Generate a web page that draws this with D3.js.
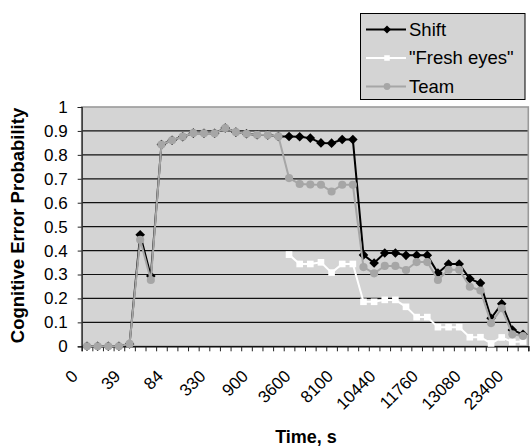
<!DOCTYPE html>
<html>
<head>
<meta charset="utf-8">
<script src="https://cdn.jsdelivr.net/npm/d3@7"></script>
<style>
  html, body { margin: 0; padding: 0; background: #fff; }
  svg { display: block; font-family: "Liberation Sans", Arial, sans-serif; }
</style>
</head>
<body>
<svg id="chart" width="531" height="446"></svg>
<script>
// Time labels shown under every 4th category
const timeLabels = ["0", "39", "84", "330", "900", "3600", "8100", "10440", "11760", "13080", "23400"];
const yTicks = [0, 0.1, 0.2, 0.3, 0.4, 0.5, 0.6, 0.7, 0.8, 0.9, 1];

const shift = [0, 0, 0, 0, 0.01, 0.466, 0.294, 0.843, 0.861, 0.876, 0.891, 0.89, 0.89, 0.912,
  0.895, 0.888, 0.884, 0.883, 0.877, 0.877, 0.876, 0.87, 0.85, 0.849, 0.864, 0.864, 0.382,
  0.348, 0.39, 0.39, 0.38, 0.38, 0.38, 0.306, 0.344, 0.344, 0.282, 0.264, 0.117, 0.178, 0.068, 0.05];

const freshEyes = [null, null, null, null, null, null, null, null, null, null, null, null, null,
  null, null, null, null, null, null, 0.383, 0.344, 0.344, 0.351, 0.308, 0.344, 0.344, 0.186,
  0.186, 0.194, 0.194, 0.165, 0.122, 0.122, 0.08, 0.08, 0.08, 0.038, 0.038, 0.012, 0.037, 0.018, 0.02];

const team = [0, 0, 0, 0, 0.01, 0.445, 0.277, 0.843, 0.861, 0.876, 0.891, 0.89, 0.89, 0.912,
  0.895, 0.888, 0.884, 0.883, 0.877, 0.703, 0.678, 0.676, 0.675, 0.647, 0.675, 0.675, 0.331,
  0.305, 0.336, 0.336, 0.319, 0.352, 0.352, 0.277, 0.32, 0.32, 0.249, 0.233, 0.097, 0.159, 0.05, 0.043];

const seriesNames = ["Shift", "\"Fresh eyes\"", "Team"];

const n = team.length;
const labelStep = 4;
const FONT = "Liberation Sans, Arial, sans-serif";

const svg = d3.select("#chart");
const plot = { left: 81.7, right: 528.3, top: 107, bottom: 346.3 };
const bg = "#d4d4d4";

const x = d3.scaleBand().domain(d3.range(n)).range([plot.left, plot.right]).padding(0);
const xEdge = d3.scaleLinear().domain([0, n]).range([plot.left, plot.right]);
const y = d3.scaleLinear().domain([0, 1]).range([plot.bottom, plot.top]);
const cx = i => x(i) + x.bandwidth() / 2;

// plot area background
svg.append("rect")
  .attr("x", plot.left).attr("y", plot.top)
  .attr("width", plot.right - plot.left).attr("height", plot.bottom - plot.top)
  .attr("fill", bg);

// horizontal gridlines
svg.append("g").selectAll("line")
  .data(yTicks.filter(d => d > 0 && d < 1))
  .join("line")
  .attr("x1", plot.left).attr("x2", plot.right)
  .attr("y1", d => y(d)).attr("y2", d => y(d))
  .attr("stroke", "#111").attr("stroke-width", 1.2);

// plot border
svg.append("rect")
  .attr("x", plot.left).attr("y", plot.top)
  .attr("width", plot.right - plot.left).attr("height", plot.bottom - plot.top)
  .attr("fill", "none").attr("stroke", "#9a9a9a").attr("stroke-width", 1.6);

// y axis
const yAxis = svg.append("g")
  .attr("transform", `translate(${plot.left},0)`)
  .call(d3.axisLeft(y).tickValues(yTicks).tickSize(4).tickPadding(10).tickFormat(d => String(d)))
  .attr("font-family", FONT);
yAxis.select(".domain").attr("stroke", "#222").attr("stroke-width", 1.2);
yAxis.selectAll(".tick line").attr("stroke", "#222");
yAxis.selectAll(".tick text")
  .attr("font-size", 17).attr("fill", "#000");

// x axis: tick marks on category boundaries
const xAxis = svg.append("g")
  .attr("transform", `translate(0,${plot.bottom})`)
  .call(d3.axisBottom(xEdge).tickValues(d3.range(n + 1)).tickSize(5).tickFormat(""));
xAxis.select(".domain").attr("stroke", "#111").attr("stroke-width", 1.4);
xAxis.selectAll(".tick line").attr("stroke", "#222");

// rotated time labels
svg.append("g").attr("font-family", FONT).selectAll("text")
  .data(timeLabels)
  .join("text")
  .attr("transform", (d, k) => `translate(${cx(k * labelStep) - 8},${plot.bottom + 31}) rotate(-45)`)
  .attr("text-anchor", "end")
  .attr("font-size", 17)
  .text(d => d);

// axis titles
svg.append("text")
  .attr("x", 306).attr("y", 443)
  .attr("text-anchor", "middle")
  .attr("font-family", FONT)
  .attr("font-size", 18).attr("font-weight", "bold")
  .text("Time, s");

svg.append("text")
  .attr("transform", `translate(23.5,225.5) rotate(-90)`)
  .attr("text-anchor", "middle")
  .attr("font-family", FONT)
  .attr("font-size", 18.5).attr("font-weight", "bold")
  .text("Cognitive Error Probability");

// series (Team drawn last, on top)
const styles = [
  { data: shift, color: "#000", lw: 2, marker: d3.symbolSquare, size: 46, rot: 45 },
  { data: freshEyes, color: "#fff", lw: 2, marker: d3.symbolSquare, size: 44, rot: 0 },
  { data: team, color: "#a6a6a6", lw: 2, marker: d3.symbolCircle, size: 52, rot: 0 }
];

const line = d3.line()
  .defined(d => d.v !== null)
  .x(d => cx(d.i)).y(d => y(d.v));

styles.forEach(s => {
  const pts = s.data.map((v, i) => ({ i, v }));
  const g = svg.append("g");
  g.append("path")
    .datum(pts)
    .attr("d", line)
    .attr("fill", "none")
    .attr("stroke", s.color)
    .attr("stroke-width", s.lw);
  g.selectAll("path.m")
    .data(pts.filter(d => d.v !== null))
    .join("path")
    .attr("class", "m")
    .attr("transform", d => `translate(${cx(d.i)},${y(d.v)}) rotate(${s.rot})`)
    .attr("d", d3.symbol(s.marker, s.size))
    .attr("fill", s.color);
});

// legend
const legend = svg.append("g").attr("font-family", FONT);
legend.append("rect")
  .attr("x", 360.5).attr("y", 13.5).attr("width", 164.5).attr("height", 86)
  .attr("fill", bg).attr("stroke", "#000").attr("stroke-width", 1);

const legendY = d3.scalePoint().domain(seriesNames).range([29.5, 86.5]);
seriesNames.forEach((name, k) => {
  const s = styles[k];
  const ly = legendY(name);
  legend.append("line")
    .attr("x1", 366).attr("x2", 406).attr("y1", ly).attr("y2", ly)
    .attr("stroke", s.color).attr("stroke-width", s.lw);
  legend.append("path")
    .attr("transform", `translate(387,${ly}) rotate(${s.rot})`)
    .attr("d", d3.symbol(s.marker, s.size * 0.7))
    .attr("fill", s.color);
  legend.append("text")
    .attr("x", 409).attr("y", ly)
    .attr("dy", "0.35em")
    .attr("font-size", 18.5)
    .text(name);
});
</script>
</body>
</html>
